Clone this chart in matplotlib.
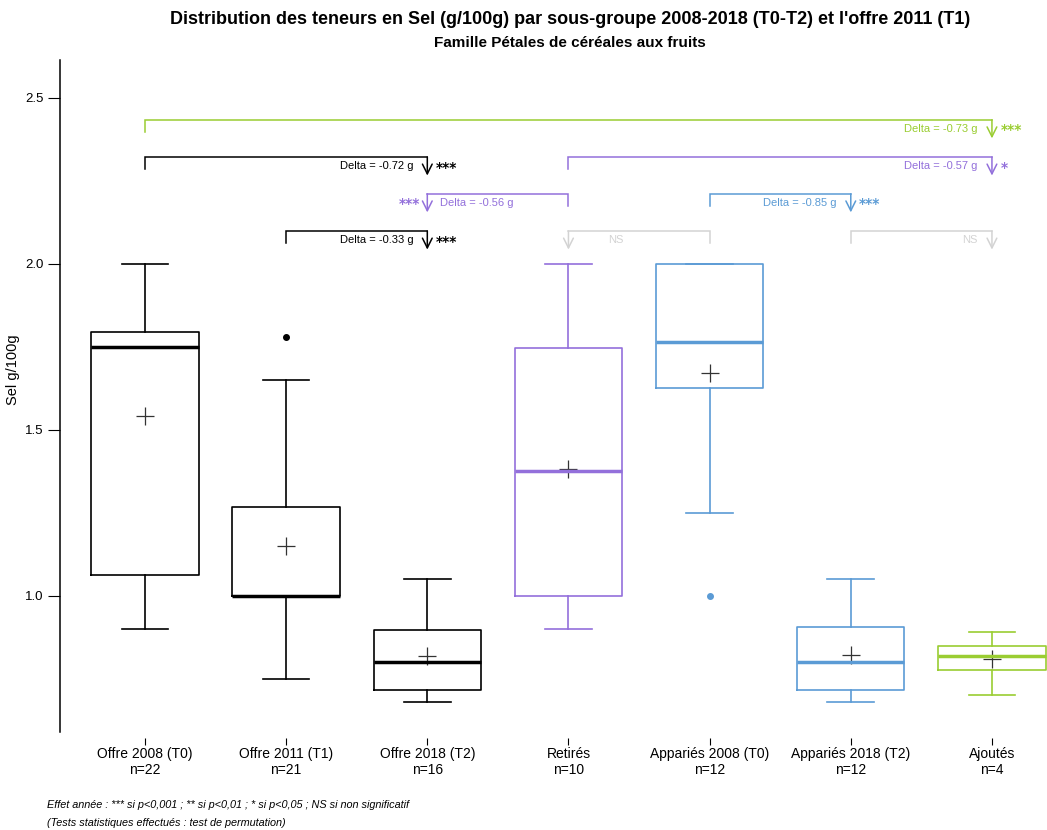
import matplotlib
matplotlib.use("Agg")
import matplotlib.pyplot as plt

plt.rcParams['font.family'] = ['Liberation Sans', 'DejaVu Sans']

# ---- data ----
categories = ["Offre 2008 (T0)", "Offre 2011 (T1)", "Offre 2018 (T2)", "Retirés",
              "Appariés 2008 (T0)", "Appariés 2018 (T2)", "Ajoutés"]
n_counts = [22, 21, 16, 10, 12, 12, 4]
whis_lo = [0.90, 0.75, 0.68, 0.90, 1.25, 0.68, 0.70]
q1 = [1.063, 1.00, 0.717, 1.00, 1.626, 0.717, 0.777]
medians = [1.75, 1.00, 0.80, 1.377, 1.765, 0.80, 0.82]
q3 = [1.795, 1.268, 0.898, 1.747, 2.00, 0.907, 0.85]
whis_hi = [2.00, 1.65, 1.051, 2.00, 2.00, 1.05, 0.89]
means = [1.542, 1.15, 0.82, 1.383, 1.672, 0.822, 0.81]
fliers = [[], [1.78], [], [], [1.00], [], []]

BLACK, PURPLE, BLUE, GREEN, GREY = "#000000", "#9370DB", "#5B9BD5", "#9ACD32", "#D3D3D3"
box_colors = [BLACK, BLACK, BLACK, PURPLE, BLUE, BLUE, GREEN]

# comparisons: (bracket start, arrow position, level, label, stars, color)
comp_start = [1, 1, 4, 4, 5, 2, 5, 6]
comp_arrow = [7, 3, 7, 3, 6, 3, 4, 7]
comp_level = [2.434, 2.322, 2.322, 2.211, 2.211, 2.099, 2.099, 2.099]
comp_label = ["Delta = -0.73 g", "Delta = -0.72 g", "Delta = -0.57 g", "Delta = -0.56 g",
              "Delta = -0.85 g", "Delta = -0.33 g", "NS", "NS"]
comp_stars = ["***", "***", "*", "***", "***", "***", "", ""]
comp_color = [GREEN, BLACK, PURPLE, PURPLE, BLUE, BLACK, GREY, GREY]

fig = plt.figure(figsize=(10.47, 8.3), dpi=100)
ax = fig.add_axes([60/1047, 1-732/830, 1-60/1047, (732-60)/830])

positions = list(range(1, len(categories)+1))
for i, p in enumerate(positions):
    c = box_colors[i]
    stats = [dict(whislo=whis_lo[i], q1=q1[i], med=medians[i], q3=q3[i],
                  whishi=whis_hi[i], fliers=fliers[i])]
    ax.bxp(stats, positions=[p], widths=0.76, showfliers=True, patch_artist=False,
           boxprops=dict(color=c, lw=1.2),
           medianprops=dict(color=c, lw=2.5),
           whiskerprops=dict(color=c, lw=1.2),
           capprops=dict(color=c, lw=1.2),
           capwidths=0.33,
           flierprops=dict(marker='o', markersize=4, markerfacecolor=c,
                           markeredgecolor=c))
    ax.plot([p], [means[i]], marker='+', markersize=13, color='#333333',
            mew=0.9, linestyle='none')

# comparisons
drop = 0.036
alen = 0.056
star_font = dict(family='DejaVu Sans', fontsize=10, fontweight='bold')
for s, a, y, lab, st, c in zip(comp_start, comp_arrow, comp_level, comp_label,
                               comp_stars, comp_color):
    ax.plot([s, s, a], [y - drop, y, y], color=c, lw=1.1, solid_joinstyle='miter')
    ax.annotate('', xy=(a, y - alen), xytext=(a, y),
                arrowprops=dict(arrowstyle='->,head_length=0.7,head_width=0.35',
                                color=c, lw=1.1, shrinkA=0, shrinkB=0))
    ty = y - 0.028
    if a > s:
        ax.text(a - 0.1, ty, lab, ha='right', va='center', fontsize=8, color=c)
        if st:
            ax.text(a + 0.06, ty - 0.004, st, ha='left', va='center', color=c,
                    **star_font)
    else:
        if lab == "NS":
            ax.text(a + 0.28, ty, lab, ha='left', va='center', fontsize=8, color=c)
        else:
            ax.text(a + 0.09, ty, lab, ha='left', va='center', fontsize=8, color=c)
        if st:
            ax.text(a - 0.05, ty - 0.004, st, ha='right', va='center', color=c,
                    **star_font)

ax.set_xlim(0.398, 7.39)
ax.set_ylim(0.590, 2.614)
ax.set_yticks([1.0, 1.5, 2.0, 2.5])
ax.set_yticklabels(["1.0", "1.5", "2.0", "2.5"])
ax.set_xticks(positions)
ax.set_xticklabels([f"{c}\nn={n}" for c, n in zip(categories, n_counts)], fontsize=8.8,
                   linespacing=1.05)
for sp in ['top', 'right']:
    ax.spines[sp].set_visible(False)
ax.spines['bottom'].set_position(('outward', 4))
ax.spines['bottom'].set_visible(False)
ax.spines['left'].set_linewidth(1.1)
ax.tick_params(axis='y', length=9, width=0.8, labelsize=9.5, pad=3)
ax.tick_params(axis='x', length=5, width=0.8, pad=2)
ax.set_ylabel("Sel g/100g", fontsize=10.5)
ax.yaxis.set_label_coords(-0.041, (732 - 370) / 672)

fig.text(570/1047, 1-20/830, "Distribution des teneurs en Sel (g/100g) par sous-groupe 2008-2018 (T0-T2) et l'offre 2011 (T1)",
         ha='center', va='center', fontsize=13, fontweight='bold')
fig.text(570/1047, 1-43/830, "Famille Pétales de céréales aux fruits",
         ha='center', va='center', fontsize=11, fontweight='bold')
fig.text(47/1047, 1-805/830, "Effet année : *** si p<0,001 ; ** si p<0,01 ; * si p<0,05 ; NS si non significatif",
         ha='left', va='center', fontsize=7.8, style='italic')
fig.text(47/1047, 1-823/830, "(Tests statistiques effectués : test de permutation)",
         ha='left', va='center', fontsize=7.8, style='italic')

fig.savefig("out.png", dpi=100)
